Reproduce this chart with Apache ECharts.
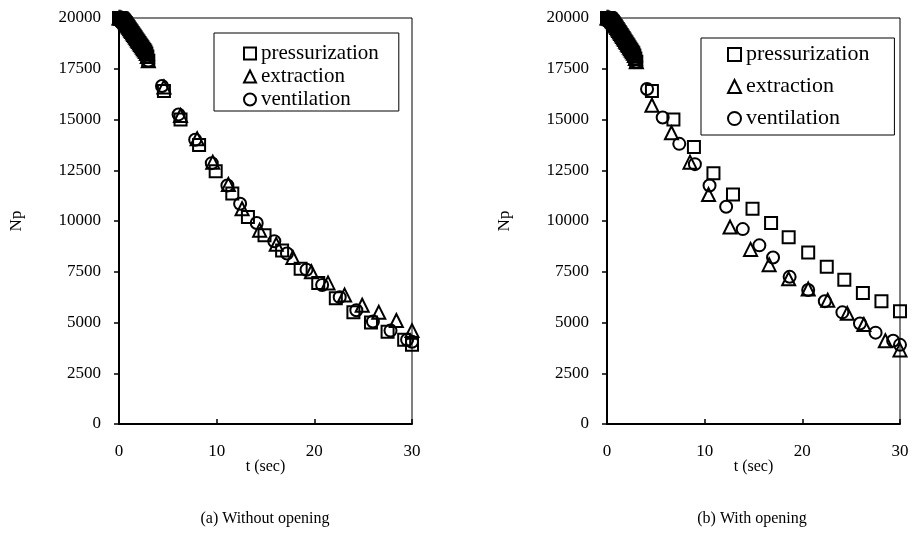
<!DOCTYPE html>
<html lang="en">
<head>
    <meta charset="UTF-8">
    <title>Np vs t</title>
    <script src="https://cdn.jsdelivr.net/npm/echarts@6/dist/echarts.min.js"></script>
    <style>
        html, body {
            margin: 0;
            padding: 0;
            background: #fff;
        }
        #chart {
            width: 912px;
            height: 536px;
        }
    </style>
</head>
<body>
<div id="chart"></div>
<script>
    // early phase (0-3 s), the markers of the three cases overlap into one band
    var startT   = [0, 0.1, 0.2, 0.3, 0.4, 0.5, 0.6, 0.7, 0.8, 0.9, 1, 1.1, 1.2, 1.3, 1.4, 1.5,
                    1.6, 1.7, 1.8, 1.9, 2, 2.1, 2.2, 2.3, 2.4, 2.5, 2.6, 2.7, 2.8, 2.9, 3];
    var startNpA = [20000, 20000, 19990, 19970, 19930, 19880, 19820, 19750, 19680, 19610, 19540, 19470, 19400, 19330, 19260, 19190,
                    19120, 19050, 18980, 18910, 18840, 18770, 18700, 18630, 18560, 18490, 18420, 18350, 18250, 18100, 17900];
    var startNpB = [20000, 20000, 19990, 19960, 19920, 19870, 19810, 19740, 19670, 19600, 19530, 19460, 19380, 19310, 19240, 19160,
                    19090, 19010, 18940, 18860, 18790, 18710, 18640, 18560, 18490, 18410, 18340, 18260, 18150, 18000, 17850];

    // (a) without opening
    var aPressT  = [4.6, 6.3, 8.2, 9.9, 11.6, 13.2, 14.9, 16.7, 18.6, 20.4, 22.2, 24, 25.8, 27.5, 29.2, 30];
    var aPressNp = [16400, 15000, 13750, 12450, 11350, 10200, 9300, 8550, 7650, 6950, 6200, 5500, 5000, 4550, 4150, 3900];
    var aExtrT   = [4.6, 6.3, 8.0, 9.6, 11.2, 12.6, 14.4, 16.1, 17.8, 19.7, 21.4, 23.1, 24.9, 26.6, 28.4, 30];
    var aExtrNp  = [16600, 15200, 14050, 12900, 11800, 10600, 9550, 8850, 8200, 7500, 6950, 6350, 5850, 5500, 5100, 4600];
    var aVentT   = [4.4, 6.1, 7.8, 9.5, 11.1, 12.4, 14.1, 15.9, 17.2, 19.2, 20.8, 22.6, 24.3, 26, 27.8, 29.5, 30];
    var aVentNp  = [16650, 15250, 14000, 12850, 11750, 10850, 9900, 9000, 8400, 7600, 6850, 6250, 5600, 5050, 4600, 4150, 4050];

    // (b) with opening
    var bPressT  = [4.6, 6.8, 8.9, 10.9, 12.9, 14.9, 16.8, 18.6, 20.6, 22.5, 24.3, 26.2, 28.1, 30];
    var bPressNp = [16400, 15000, 13650, 12350, 11300, 10600, 9900, 9200, 8450, 7750, 7100, 6450, 6050, 5550];
    var bExtrT   = [4.6, 6.6, 8.5, 10.4, 12.6, 14.7, 16.6, 18.6, 20.6, 22.6, 24.6, 26.3, 28.5, 30];
    var bExtrNp  = [15700, 14350, 12900, 11300, 9700, 8600, 7850, 7150, 6650, 6100, 5450, 4900, 4100, 3650];
    var bVentT   = [4.1, 5.7, 7.4, 9.0, 10.5, 12.2, 13.9, 15.6, 17.0, 18.7, 20.6, 22.3, 24.1, 25.9, 27.5, 29.3, 30];
    var bVentNp  = [16500, 15100, 13800, 12800, 11750, 10700, 9600, 8800, 8200, 7250, 6600, 6050, 5500, 4950, 4500, 4100, 3900];

    var seriesNames = ['pressurization', 'extraction', 'ventilation'];
    var symbols = ['rect', 'triangle', 'circle'];
    var symbolSizes = [12, 13, 12];

    function pairs(t0, n0, t, n) {
        var out = [];
        for (var i = 0; i < t0.length; i++) out.push([t0[i], n0[i]]);
        for (var j = 0; j < t.length; j++) out.push([t[j], n[j]]);
        return out;
    }

    var panelData = [
        [pairs(startT, startNpA, aPressT, aPressNp), pairs(startT, startNpA, aExtrT, aExtrNp), pairs(startT, startNpA, aVentT, aVentNp)],
        [pairs(startT, startNpB, bPressT, bPressNp), pairs(startT, startNpB, bExtrT, bExtrNp), pairs(startT, startNpB, bVentT, bVentNp)]
    ];

    var FONT = 'Liberation Serif';
    var gridLefts = [119, 607];

    function xAxisFor(i) {
        return {
            type: 'value', gridIndex: i, min: 0, max: 30, interval: 10,
            name: 't (sec)', nameLocation: 'middle', nameGap: 35, nameMoveOverlap: false,
            nameTextStyle: { fontFamily: FONT, fontSize: 16, color: '#000' },
            axisLine: { lineStyle: { color: '#000', width: 2 } },
            axisTick: { inside: true, length: 5, lineStyle: { color: '#000', width: 1.5 } },
            axisLabel: { fontFamily: FONT, fontSize: 17, color: '#000', margin: 19 },
            splitLine: { show: false }
        };
    }

    function yAxisFor(i) {
        return {
            type: 'value', gridIndex: i, min: 0, max: 20000, interval: 2500,
            name: 'Np', nameLocation: 'middle', nameGap: 94,
            nameTextStyle: { fontFamily: FONT, fontSize: 17, color: '#000' },
            axisLine: { lineStyle: { color: '#000', width: 2 } },
            axisTick: { length: 5, lineStyle: { color: '#000', width: 1.5 } },
            axisLabel: {
                fontFamily: FONT, fontSize: 17, color: '#000', margin: 18,
                formatter: function (v) { return String(v); }
            },
            splitLine: { show: false }
        };
    }

    var series = [];
    for (var p = 0; p < 2; p++) {
        for (var s = 0; s < 3; s++) {
            series.push({
                name: seriesNames[s],
                type: 'scatter',
                xAxisIndex: p, yAxisIndex: p,
                symbol: symbols[s],
                symbolSize: symbolSizes[s],
                itemStyle: { color: 'rgba(255,255,255,0)', borderColor: '#000', borderWidth: 2, opacity: 1 },
                data: panelData[p][s]
            });
        }
    }

    var legendBase = {
        orient: 'vertical',
        data: seriesNames,
        backgroundColor: '#fff',
        borderColor: '#000',
        borderWidth: 1,
        selectedMode: false,
        itemStyle: { color: 'rgba(255,255,255,0)', borderColor: '#000', borderWidth: 2 }
    };

    var option = {
        animation: false,
        backgroundColor: '#fff',
        title: [
            { text: '(a) Without opening', left: 260, top: 506, textAlign: 'center',
              textStyle: { fontFamily: FONT, fontSize: 16, fontWeight: 'normal', color: '#000' } },
            { text: '(b) With opening', left: 747, top: 506, textAlign: 'center',
              textStyle: { fontFamily: FONT, fontSize: 16, fontWeight: 'normal', color: '#000' } }
        ],
        legend: [
            Object.assign({}, legendBase, {
                left: 214, top: 33, padding: [9, 20, 0, 29], itemGap: 0,
                itemWidth: 12, itemHeight: 12,
                textStyle: { fontFamily: FONT, fontSize: 21, lineHeight: 23, color: '#000' }
            }),
            Object.assign({}, legendBase, {
                left: 701, top: 38, padding: [5, 25, 5, 26], itemGap: 9,
                itemWidth: 13, itemHeight: 13,
                textStyle: { fontFamily: FONT, fontSize: 22, lineHeight: 23, color: '#000' }
            })
        ],
        grid: [
            { left: gridLefts[0], top: 18, width: 293, height: 406, show: true, borderColor: '#000', borderWidth: 1, backgroundColor: 'transparent' },
            { left: gridLefts[1], top: 18, width: 293, height: 406, show: true, borderColor: '#000', borderWidth: 1, backgroundColor: 'transparent' }
        ],
        xAxis: [xAxisFor(0), xAxisFor(1)],
        yAxis: [yAxisFor(0), yAxisFor(1)],
        series: series
    };

    var myChart = echarts.init(document.getElementById('chart'));
    myChart.setOption(option);
</script>
</body>
</html>
